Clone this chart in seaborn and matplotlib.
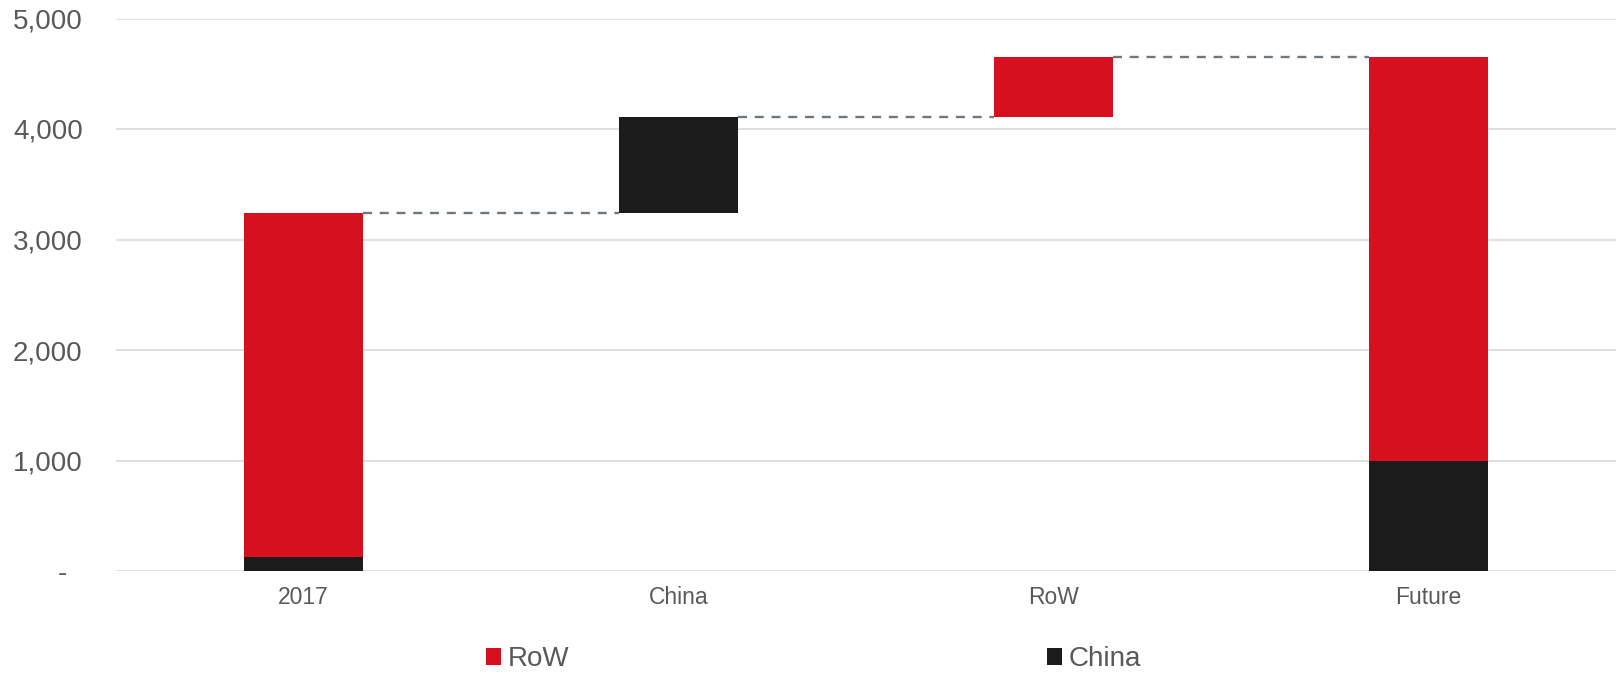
import numpy as np
import pandas as pd
import matplotlib
matplotlib.use("Agg")
import matplotlib.pyplot as plt
from matplotlib.patches import Patch
import seaborn as sns

# ---- data ----
categories = ["2017", "China", "RoW", "Future"]
china_vals = [130, 870, 0, 1000]     # China component per column
row_vals = [3110, 0, 540, 3650]      # RoW component per column
kinds = ["total", "delta", "delta", "total"]
y_ticks = [0, 1000, 2000, 3000, 4000, 5000]
y_ticklabels = ["-  ", "1,000", "2,000", "3,000", "4,000", "5,000"]
legend_labels = ["RoW", "China"]

RED = "#D7101F"
BLACK = "#1B1B1B"
TEXT = "#595959"
GRID = "#D9D9D9"
DASH = "#6E767E"

# compute bottoms for the waterfall
china_bottom, row_bottom, tops = [], [], []
running = 0
for k, c, r in zip(kinds, china_vals, row_vals):
    if k == "total":
        china_bottom.append(0)
        row_bottom.append(c)
        running = c + r
    else:
        china_bottom.append(running)
        row_bottom.append(running + c)
        running = running + c + r
    tops.append(running)

df = pd.DataFrame({
    "category": categories,
    "china": china_vals,
    "row": row_vals,
    "china_bottom": china_bottom,
    "row_bottom": row_bottom,
})

sns.set_theme(style="white")
plt.rcParams["font.family"] = ["Liberation Sans", "DejaVu Sans"]

fig = plt.figure(figsize=(16.17, 6.74), dpi=100)
ax = fig.add_axes([116 / 1617, 103 / 674, 1500 / 1617, 552.5 / 674])

W = 0.315
dc = df[df["china"] > 0]
sns.barplot(data=dc, x="category", y="china", order=categories, color=BLACK,
            saturation=1, width=W, bottom=dc["china_bottom"].values,
            linewidth=0, ax=ax, zorder=3)
dr = df[df["row"] > 0]
sns.barplot(data=dr, x="category", y="row", order=categories, color=RED,
            saturation=1, width=W, bottom=dr["row_bottom"].values,
            linewidth=0, ax=ax, zorder=3)

# connector lines
for i in range(len(categories) - 1):
    ax.hlines(tops[i], i + W / 2, i + 1 - W / 2, colors=DASH,
              linestyles=(0, (3.8, 3.3)), linewidth=1.7, zorder=4)

ax.set_xlim(-0.5, len(categories) - 0.5)
ax.set_ylim(0, 5000)
ax.set_yticks(y_ticks)
ax.set_yticklabels(y_ticklabels)
ax.yaxis.grid(True, color=GRID, linewidth=1.2, zorder=0)
ax.set_axisbelow(True)
ax.set_xlabel("")
ax.set_ylabel("")
for s in ax.spines.values():
    s.set_visible(False)
ax.tick_params(axis="y", length=0, pad=24, labelsize=20, labelcolor=TEXT)
ax.tick_params(axis="x", length=0, pad=11, labelsize=16.5, labelcolor=TEXT)

handles = [Patch(facecolor=RED, edgecolor="none"), Patch(facecolor=BLACK, edgecolor="none")]
leg = fig.legend(handles, legend_labels, loc="center", bbox_to_anchor=(0.503, 0.022),
                 ncol=2, frameon=False, fontsize=20, handlelength=0.54,
                 handleheight=0.54, handletextpad=0.25, columnspacing=17.2,
                 borderpad=0, borderaxespad=0)
for t in leg.get_texts():
    t.set_color(TEXT)

fig.savefig("out.png", dpi=100)
